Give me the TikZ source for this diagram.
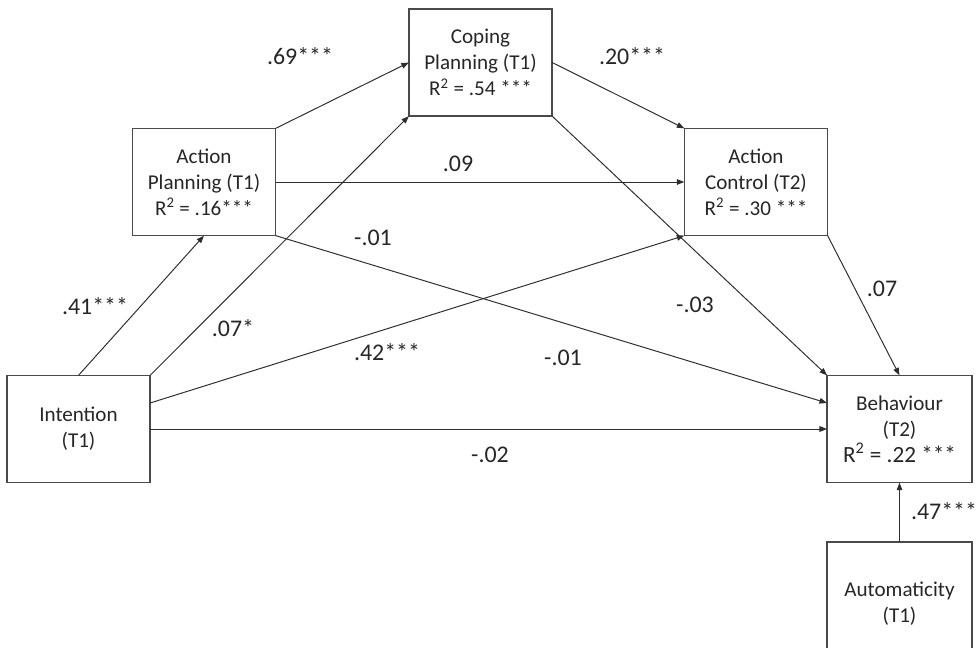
\documentclass[tikz,border=0pt]{standalone}
\usepackage{fontspec}
\setmainfont{Carlito}
\usepackage{tikz}
\usetikzlibrary{arrows.meta,positioning,calc}
\definecolor{BoxGray}{HTML}{4A4A4A}
\definecolor{LineGray}{HTML}{2E2E2E}
\definecolor{TextGray}{HTML}{262626}

\begin{document}
\begin{tikzpicture}[x=0.025cm,y=-0.025cm,
var/.style={draw=BoxGray,line width=0.9pt,minimum width=3.58cm,minimum height=2.68cm,align=center,outer sep=0pt,text=TextGray,font=\fontsize{15}{18.5}\selectfont},
coef/.style={text=TextGray,font=\fontsize{17}{19}\selectfont},
arr/.style={-{Triangle[length=1.9mm,width=1.4mm]},line width=0.7pt,LineGray}
]
\useasboundingbox (0,0) rectangle (979,648);
% boxes
\node[var] (cope) at (480.5,62.5) {Coping\\Planning (T1)\\R\textsuperscript{2} = .54 ***};
\node[var] (actplan) at (204,182) {Action\\Planning (T1)\\R\textsuperscript{2} = .16***};
\node[var] (actctrl) at (756,182) {Action\\Control (T2)\\R\textsuperscript{2} = .30 ***};
\node[var] (intent) at (78.5,429) {Intention\\(T1)};
\node[var,minimum width=3.62cm] (behav) at (899.5,429) {Behaviour\\(T2)\\{\fontsize{16.5}{18.5}\selectfont R\textsuperscript{2} = .22 ***}};
\begin{scope}
\clip (0,0) rectangle (979,648);
\node[var,minimum width=3.62cm,minimum height=3.7cm] (autom) at (899.5,616) {\raisebox{1.1cm}{\begin{tabular}{@{}c@{}}Automaticity\\(T1)\end{tabular}}};
\end{scope}
% paths
\draw[arr] (intent.north) -- (actplan.south);
\draw[arr] (intent.north east) -- (cope.south west);
\draw[arr] ($(intent.east)+(0,-26)$) -- (actctrl.south west);
\draw[arr] (intent.east) -- (behav.west);
\draw[arr] (actplan.north east) -- (cope.west);
\draw[arr] (actplan.east) -- (actctrl.west);
\draw[arr] (actplan.south east) -- ($(behav.west)+(0,-26)$);
\draw[arr] (cope.east) -- (actctrl.north west);
\draw[arr] (cope.south east) -- (behav.north west);
\draw[arr] (actctrl.south east) -- (behav.north);
\draw[arr] (autom.north) -- (behav.south);
% coefficients
\node[coef] (c69) at (300,56) {.69***};
\node[coef] (c20) at (632,56) {.20***};
\node[coef] (c09) at (458,164) {.09};
\node[coef] (c01a) at (373,238) {-.01};
\node[coef] (c41) at (95,306) {.41***};
\node[coef] (c07s) at (233,328) {.07*};
\node[coef] (c42) at (387,352) {.42***};
\node[coef] (c03) at (695,305) {-.03};
\node[coef] (c01b) at (563,358) {-.01};
\node[coef] (c07) at (882,289) {.07};
\node[coef] (c02) at (490,455) {-.02};
\node[coef] (c47) at (944,511) {.47***};
\end{tikzpicture}
\end{document}
